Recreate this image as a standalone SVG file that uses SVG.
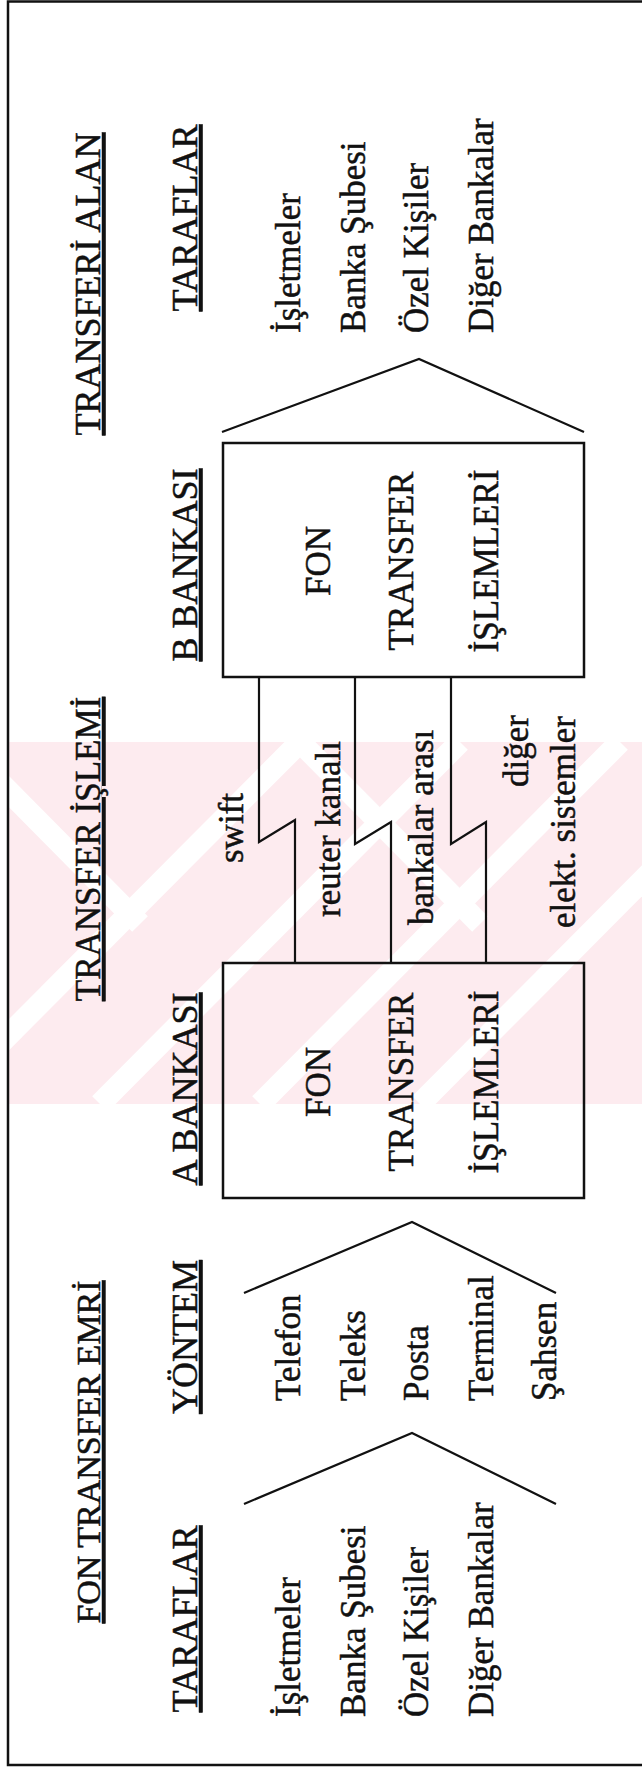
<svg xmlns="http://www.w3.org/2000/svg" width="642" height="1769" viewBox="0 0 642 1769">
<style>
  .t { font-family: "Liberation Serif", "Times New Roman", serif; font-size: 35px; fill: #111; stroke: #111; stroke-width: 0.5; }
  .h { font-family: "Liberation Serif", "Times New Roman", serif; font-size: 36px; fill: #111; stroke: #111; stroke-width: 0.5; text-decoration: underline; }
  .box { fill: none; stroke: #111; stroke-width: 2.5; }
  .ln { fill: none; stroke: #111; stroke-width: 2.2; stroke-linejoin: miter; }
  .frame { fill: none; stroke: #111; stroke-width: 2.5; }
</style>
<defs>
  <clipPath id="wmclip"><rect x="8" y="742" width="634" height="362"/></clipPath>
</defs>
<rect x="0" y="0" width="642" height="1769" fill="#ffffff"/>
<g id="watermark" clip-path="url(#wmclip)">
  <rect x="8" y="742" width="634" height="362" fill="#fdebef"/>
  <g stroke="#ffffff" stroke-width="22" fill="none">
    <path d="M-60,1104 L300,742"/>
    <path d="M100,1104 L460,742"/>
    <path d="M260,1104 L620,742"/>
    <path d="M420,1104 L780,742"/>
    <path d="M-40,742 L140,924"/>
    <path d="M300,742 L480,924"/>
  </g>
</g>
<g id="frame">
  <path class="frame" d="M642,1.5 H8 V1765 H642"/>
</g>
<g id="headers">
  <text class="h" text-anchor="middle" transform="translate(100,284) rotate(-90)">TRANSFERİ ALAN</text>
  <text class="h" text-anchor="middle" transform="translate(100,849) rotate(-90)" style="font-size:35px">TRANSFER İŞLEMİ</text>
  <text class="h" text-anchor="middle" transform="translate(100,1452) rotate(-90)" style="font-size:34px">FON TRANSFER EMRİ</text>
</g>
<g id="receivers">
  <text class="h" text-anchor="middle" transform="translate(197,218) rotate(-90)">TARAFLAR</text>
  <text class="t" transform="translate(300,333) rotate(-90)">İşletmeler</text>
  <text class="t" transform="translate(365,333) rotate(-90)">Banka Şubesi</text>
  <text class="t" transform="translate(428,333) rotate(-90)">Özel Kişiler</text>
  <text class="t" transform="translate(493,333) rotate(-90)">Diğer Bankalar</text>
  <polyline class="ln" points="222,432 419,359 584,432"/>
</g>
<g id="bankB">
  <text class="h" text-anchor="middle" transform="translate(197,565) rotate(-90)">B BANKASI</text>
  <rect class="box" x="223" y="443" width="361" height="234"/>
  <text class="t" text-anchor="middle" transform="translate(330,561) rotate(-90)">FON</text>
  <text class="t" text-anchor="middle" transform="translate(413,561) rotate(-90)">TRANSFER</text>
  <text class="t" text-anchor="middle" transform="translate(498,561) rotate(-90)">İŞLEMLERİ</text>
</g>
<g id="connectors">
  <path class="ln" d="M259,677 V842 L295,820 V963"/>
  <path class="ln" d="M355,677 V844 L391,822 V963"/>
  <path class="ln" d="M451,677 V844 L486,822 V963"/>
  <text class="t" transform="translate(243,863) rotate(-90)">swift</text>
  <text class="t" transform="translate(340,917) rotate(-90)">reuter kanalı</text>
  <text class="t" transform="translate(433,925) rotate(-90)">bankalar arası</text>
  <text class="t" transform="translate(528,787) rotate(-90)">diğer</text>
  <text class="t" transform="translate(575,928) rotate(-90)">elekt. sistemler</text>
</g>
<g id="bankA">
  <text class="h" text-anchor="middle" transform="translate(197,1089) rotate(-90)">A BANKASI</text>
  <rect class="box" x="223" y="963" width="361" height="235"/>
  <text class="t" text-anchor="middle" transform="translate(330,1082) rotate(-90)">FON</text>
  <text class="t" text-anchor="middle" transform="translate(413,1082) rotate(-90)">TRANSFER</text>
  <text class="t" text-anchor="middle" transform="translate(498,1082) rotate(-90)">İŞLEMLERİ</text>
</g>
<g id="methods">
  <polyline class="ln" points="244,1293 412,1222 556,1293"/>
  <text class="h" text-anchor="middle" transform="translate(197,1337) rotate(-90)">YÖNTEM</text>
  <text class="t" transform="translate(300,1401) rotate(-90)">Telefon</text>
  <text class="t" transform="translate(365,1401) rotate(-90)">Teleks</text>
  <text class="t" transform="translate(428,1401) rotate(-90)">Posta</text>
  <text class="t" transform="translate(493,1401) rotate(-90)">Terminal</text>
  <text class="t" transform="translate(556,1401) rotate(-90)">Şahsen</text>
</g>
<g id="senders">
  <polyline class="ln" points="244,1504 412,1433 556,1504"/>
  <text class="h" text-anchor="middle" transform="translate(197,1619) rotate(-90)">TARAFLAR</text>
  <text class="t" transform="translate(300,1717) rotate(-90)">İşletmeler</text>
  <text class="t" transform="translate(365,1717) rotate(-90)">Banka Şubesi</text>
  <text class="t" transform="translate(428,1717) rotate(-90)">Özel Kişiler</text>
  <text class="t" transform="translate(493,1717) rotate(-90)">Diğer Bankalar</text>
</g>
</svg>
